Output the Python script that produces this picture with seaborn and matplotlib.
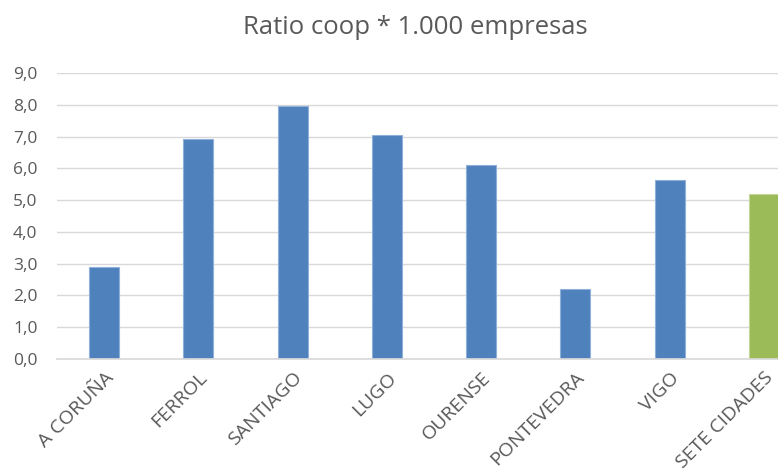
import seaborn as sns
import matplotlib.pyplot as plt
from matplotlib.ticker import FuncFormatter

cities = ['A CORUÑA', 'FERROL', 'SANTIAGO', 'LUGO', 'OURENSE', 'PONTEVEDRA', 'VIGO', 'SETE CIDADES']
ratio = [2.90, 6.92, 7.95, 7.06, 6.10, 2.19, 5.63, 5.19]
bar_colors = ['#4F81BD'] * 7 + ['#9BBB59']
edge_colors = ['#8FB0D8'] * 7 + ['#C3D69B']

sns.set_theme(style='white')
plt.rcParams['font.family'] = ['Open Sans', 'DejaVu Sans']
text_color = '#595959'

fig = plt.figure(figsize=(7.78, 4.69), dpi=100)
# the chart is cropped on the right in the reference, so the axes run past the figure edge
ax = fig.add_axes([57 / 778, 110 / 469, 754 / 778, 286 / 469])

sns.barplot(x=cities, y=ratio, hue=cities, palette=bar_colors, legend=False,
            width=0.32, ax=ax, saturation=1)
for patch, ec in zip(ax.patches, edge_colors):
  patch.set_edgecolor(ec)
  patch.set_linewidth(0.8)

ax.set_ylim(0, 9)
ax.set_xlim(-0.5, 7.5)
ax.set_yticks(range(10))
ax.yaxis.set_major_formatter(FuncFormatter(lambda v, _: '{:.1f}'.format(v).replace('.', ',')))
ax.grid(axis='y', color='#D9D9D9', linewidth=1)
ax.set_axisbelow(True)
for side in ['top', 'right', 'left']:
  ax.spines[side].set_visible(False)
ax.spines['bottom'].set_color('#D9D9D9')
ax.tick_params(length=0, colors=text_color)
ax.tick_params(axis='y', pad=14, labelsize=12.5)
ax.tick_params(axis='x', pad=7, labelsize=14)
plt.setp(ax.get_xticklabels(), rotation=45, ha='right', rotation_mode='anchor')
ax.set_xlabel('')
ax.set_ylabel('')

fig.text(415 / 778, 1 - 28 / 469, 'Ratio coop * 1.000 empresas', ha='center', va='center',
         fontsize=18.5, color=text_color)

fig.savefig('out.png', dpi=100)
